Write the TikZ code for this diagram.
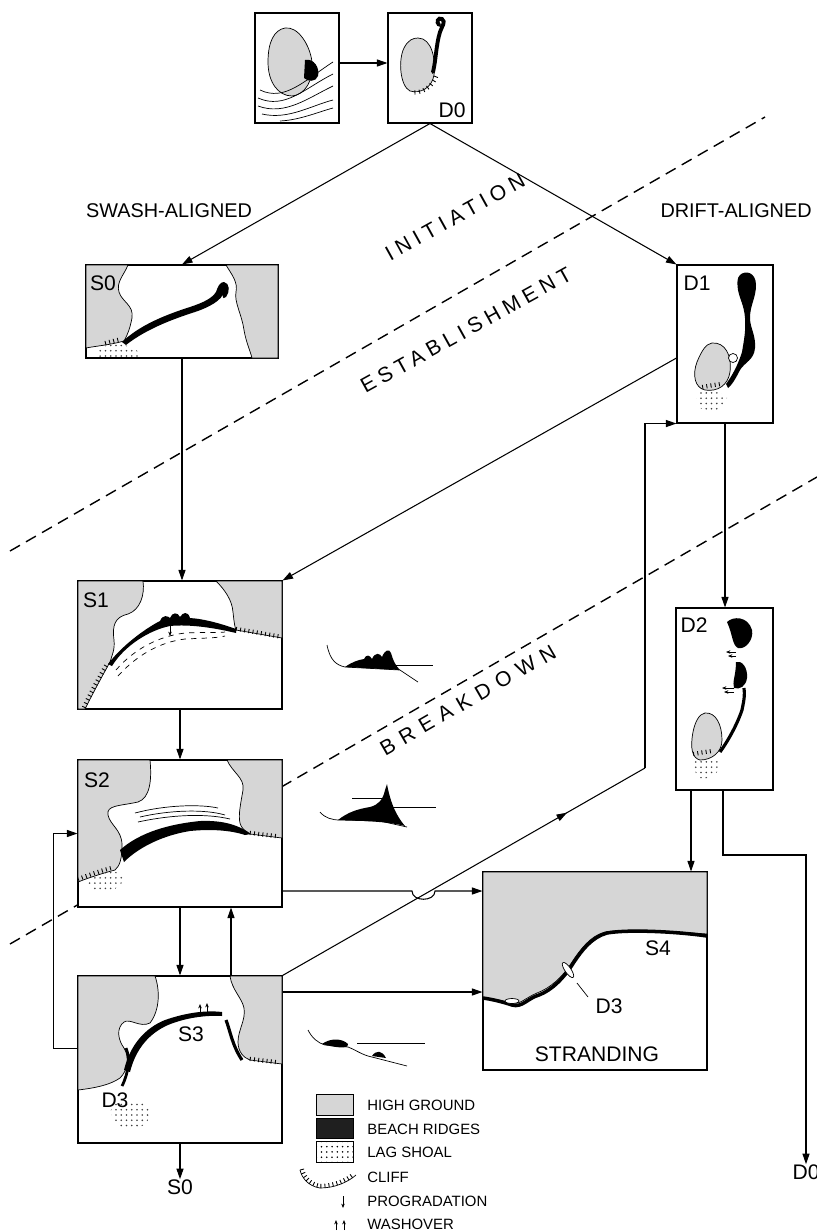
\documentclass[tikz,border=0pt]{standalone}
\usepackage{fontspec}
\setmainfont{Liberation Sans}
\usetikzlibrary{arrows.meta,calc,fit,patterns,decorations.pathreplacing,decorations.markings}
\begin{document}
\begin{tikzpicture}[x=0.02cm,y=-0.02cm]
\tikzset{
 panel/.style={draw, line width=0.6pt, fill=white, inner sep=0pt},
 conn/.style={line width=0.6pt},
 arr/.style={conn, -{Triangle[length=6pt,width=4pt]}},
 midarrow/.style={postaction={decorate, decoration={markings, mark=at position 0.785 with {\arrow{Triangle[length=6pt,width=4pt]}}}}},
 phaseline/.style={dash pattern=on 6.5pt off 4pt, line width=0.8pt},
 hg/.style={fill=black!16, draw=black, line width=0.4pt},
 ridge/.style={fill=black},
 shoal/.style={pattern=dots, pattern color=black!75},
 cliffticks/.style={decorate, decoration={border, segment length=2.4pt, amplitude=2.4pt, angle=90}, line width=0.5pt},
 lbl/.style={font=\fontsize{12}{14}\selectfont, inner sep=0pt},
 hdr/.style={font=\fontsize{11.3}{13}\selectfont, inner sep=0pt},
 leg/.style={font=\fontsize{8.5}{10}\selectfont, inner sep=0pt, anchor=west},
 phasetxt/.style={font=\fontsize{12}{14}\selectfont\addfontfeatures{LetterSpace=25}, rotate=29, inner sep=0pt},
 thin/.style={line width=0.4pt},
}
\useasboundingbox (0,0) rectangle (817,1231);

% phase boundaries
\draw[phaseline] (10,551) -- (765,117);
\draw[phaseline] (10,944) -- (817,477);

% panels
\node[panel, fit={(255,13)(339,123)}] (T1) {};
\node[panel, fit={(388,13)(472,123)}] (D0) {};
\node[panel, fit={(86,265)(278,358)}] (S0) {};
\node[panel, fit={(677,265)(773,423)}] (D1) {};
\node[panel, fit={(78,581)(282,709)}] (S1) {};
\node[panel, fit={(676,608)(773,790)}] (D2) {};
\node[panel, fit={(78,760)(282,907)}] (S2) {};
\node[panel, fit={(78,976)(282,1143)}] (S3) {};
\node[panel, fit={(483,872)(707,1070)}] (ST) {};

% ---------- sketches ----------
% T1
\draw[hg] (285,28) .. controls (298,26) and (310,45) .. (312,62) .. controls (314,80) and (305,95) .. (292,96) .. controls (278,96) and (268,82) .. (268,62) .. controls (268,42) and (274,30) .. (285,28) -- cycle;
\fill (305,60) .. controls (314,58) and (320,68) .. (318,76) .. controls (316,82) and (308,82) .. (304,78) -- cycle;
\draw[thin] (260,90) .. controls (285,102) and (305,80) .. (333,62);
\draw[thin] (258,98) .. controls (285,110) and (305,88) .. (333,74);
\draw[thin] (258,106) .. controls (285,116) and (308,98) .. (333,86);
\draw[thin] (262,114) .. controls (288,120) and (310,106) .. (333,100);
\draw[thin] (280,121) .. controls (300,120) and (318,112) .. (333,108);

% D0 panel
\draw[hg] (418,38) .. controls (432,38) and (436,60) .. (434,75) .. controls (432,88) and (420,94) .. (410,91) .. controls (400,86) and (398,60) .. (404,48) .. controls (408,40) and (413,38) .. (418,38) -- cycle;
\draw[cliffticks] (434,76) .. controls (430,86) and (420,92) .. (410,90);
\draw[line width=2.2pt, line cap=round] (433,72) .. controls (436,60) and (436,45) .. (440,32) .. controls (442,26) and (446,22) .. (442,19) .. controls (438,17) and (436,22) .. (439,25);
\node[lbl] (D0l) at (452,110) {D0};

% S0 panel
\draw[hg] (86,265) -- (128,265) .. controls (124,275) and (116,282) .. (119,292) .. controls (122,302) and (134,305) .. (132,318) .. controls (130,328) and (128,334) .. (124,341) .. controls (110,345) and (96,346) .. (86,348) -- cycle;
\draw[hg] (226,265) .. controls (232,275) and (238,282) .. (236,292) .. controls (234,302) and (242,315) .. (244,330) .. controls (246,342) and (250,350) .. (252,358) -- (278,358) -- (278,265) -- cycle;
\fill[shoal] (100,347) .. controls (115,342) and (135,345) .. (138,352) -- (138,358) -- (98,358) -- cycle;
\draw[cliffticks] (106,345) -- (126,340);
\fill[ridge] (122,342) .. controls (140,325) and (165,315) .. (190,307) .. controls (205,302) and (212,298) .. (216,292) .. controls (218,286) and (220,282) .. (224,282) .. controls (230,283) and (230,292) .. (226,297) .. controls (222,300) and (222,296) .. (224,292) .. controls (222,300) and (210,307) .. (195,312) .. controls (170,320) and (145,330) .. (126,345) -- cycle;
\node[lbl] (S0l) at (103,283) {S0};

% D1 panel
\draw[hg] (712,343) .. controls (725,342) and (732,355) .. (730,372) .. controls (728,385) and (718,392) .. (705,390) .. controls (695,388) and (692,375) .. (697,362) .. controls (702,350) and (706,344) .. (712,343) -- cycle;
\fill[shoal] (698,392) .. controls (710,390) and (725,392) .. (727,398) .. controls (728,408) and (715,412) .. (703,410) .. controls (696,405) and (695,397) .. (698,392) -- cycle;
\draw[cliffticks] (703,389) -- (727,385);
\fill[ridge] (740,275) .. controls (745,270) and (756,272) .. (756,285) .. controls (756,298) and (750,305) .. (750,318) .. controls (750,328) and (756,335) .. (755,348) .. controls (754,360) and (745,362) .. (740,370) .. controls (736,378) and (732,385) .. (728,388) -- (726,384) .. controls (732,376) and (738,365) .. (742,352) .. controls (744,340) and (746,330) .. (745,318) .. controls (744,305) and (740,300) .. (738,290) .. controls (737,282) and (737,278) .. (740,275) -- cycle;
\draw[thin, fill=white] (733,358) circle[radius=4.5];
\node[lbl] (D1l) at (697,283) {D1};

% S1 panel
\draw[hg] (78,581) -- (143,581) .. controls (145,595) and (140,610) .. (128,614) .. controls (115,617) and (112,625) .. (114,640) .. controls (115,650) and (112,655) .. (110,662) .. controls (100,680) and (92,695) .. (85,709) -- (78,709) -- cycle;
\draw[hg] (216,581) .. controls (225,590) and (232,600) .. (233,612) .. controls (234,622) and (235,628) .. (236,630) -- (282,638) -- (282,581) -- cycle;
\draw[cliffticks] (236,631) -- (282,639);
\draw[cliffticks] (86,708) .. controls (92,695) and (100,680) .. (110,663);
\fill[ridge] (108,664) .. controls (125,642) and (150,626) .. (160,621) .. controls (163,614) and (168,616) .. (170,618) .. controls (172,612) and (178,612) .. (180,617) .. controls (183,612) and (188,611) .. (190,618) .. controls (205,619) and (222,624) .. (236,629) -- (236,633) .. controls (215,628) and (190,624) .. (170,626) .. controls (150,630) and (125,645) .. (112,666) -- cycle;
\draw[thin, dashed] (116,670) .. controls (135,648) and (160,636) .. (185,633) .. controls (205,632) and (218,633) .. (225,632);
\draw[thin, dashed] (118,676) .. controls (137,655) and (160,642) .. (185,639) .. controls (205,638) and (218,638) .. (225,636);
\draw[thin, -{Stealth[length=2.5pt,width=2pt]}] (170,626) -- (170,636);
\node[lbl] (S1l) at (96,600) {S1};

% S2 panel
\draw[hg] (78,760) -- (150,760) .. controls (152,780) and (150,798) .. (138,802) .. controls (120,806) and (106,805) .. (108,815) .. controls (110,825) and (122,830) .. (122,845) .. controls (122,858) and (120,866) .. (115,870) .. controls (100,874) and (88,878) .. (78,882) -- cycle;
\draw[hg] (227,760) .. controls (232,772) and (245,778) .. (243,790) .. controls (241,802) and (238,815) .. (240,823) .. controls (242,830) and (247,832) .. (250,834) -- (282,838) -- (282,760) -- cycle;
\fill[shoal] (88,880) .. controls (100,872) and (115,870) .. (122,874) .. controls (126,880) and (120,890) .. (105,892) .. controls (95,892) and (88,888) .. (88,880) -- cycle;
\draw[cliffticks] (79,881) .. controls (90,877) and (103,872) .. (116,869);
\draw[cliffticks] (250,835) -- (282,839);
\fill[ridge] (120,850) .. controls (140,832) and (170,824) .. (200,821) .. controls (225,820) and (240,826) .. (251,834) -- (245,835) .. controls (230,830) and (210,829) .. (190,831) .. controls (165,835) and (140,846) .. (124,862) -- cycle;
\draw[thin] (140,817) .. controls (170,810) and (205,809) .. (225,815);
\draw[thin] (138,822) .. controls (170,815) and (205,813) .. (230,819);
\draw[thin] (135,813) .. controls (165,805) and (200,804) .. (218,808);
\node[lbl] (S2l) at (97,780) {S2};

% S3 panel
\draw[hg] (78,976) -- (155,976) .. controls (160,990) and (160,1010) .. (150,1023) .. controls (140,1028) and (130,1018) .. (124,1022) .. controls (116,1028) and (118,1040) .. (124,1048) .. controls (130,1058) and (128,1070) .. (120,1078) .. controls (110,1085) and (95,1088) .. (78,1090) -- cycle;
\draw[hg] (230,976) .. controls (232,990) and (242,998) .. (244,1008) .. controls (246,1020) and (238,1030) .. (238,1042) .. controls (238,1052) and (244,1058) .. (250,1060) -- (282,1064) -- (282,976) -- cycle;
\draw[cliffticks] (250,1061) -- (282,1065);
\fill[shoal] (112,1105) .. controls (125,1098) and (145,1100) .. (150,1110) .. controls (152,1122) and (140,1130) .. (128,1130) .. controls (115,1128) and (108,1115) .. (112,1105) -- cycle;
\fill[ridge] (124,1070) .. controls (130,1045) and (145,1028) .. (165,1020) .. controls (185,1013) and (205,1010) .. (222,1012) -- (222,1016) .. controls (205,1015) and (185,1018) .. (168,1025) .. controls (150,1033) and (136,1048) .. (130,1072) -- cycle;
\draw[line width=1.6pt] (126,1048) .. controls (130,1058) and (129,1072) .. (122,1086);
\draw[line width=1.8pt] (226,1020) .. controls (230,1030) and (232,1045) .. (242,1060);
\draw[thin, -{Stealth[length=2.5pt,width=2pt]}] (200,1013) -- (200,1004);
\draw[thin, -{Stealth[length=2.5pt,width=2pt]}] (207,1012) -- (207,1003);
\node[lbl] (S3l) at (191,1034) {S3};
\node[lbl] (D3a) at (115,1100) {D3};

% D2 panel
\fill[ridge] (727,622) .. controls (733,616) and (748,616) .. (752,630) .. controls (754,640) and (745,650) .. (738,648) .. controls (732,645) and (733,635) .. (727,622) -- cycle;
\fill[ridge] (736,662) .. controls (742,660) and (748,668) .. (747,678) .. controls (746,686) and (740,690) .. (734,688) .. controls (732,682) and (736,675) .. (736,662) -- cycle;
\draw[thin, -{Stealth[length=2.5pt,width=2pt]}] (736,652) -- (726,652);
\draw[thin, -{Stealth[length=2.5pt,width=2pt]}] (736,656) -- (728,656);
\draw[thin, -{Stealth[length=2.5pt,width=2pt]}] (734,688) -- (722,688);
\draw[thin, -{Stealth[length=2.5pt,width=2pt]}] (734,692) -- (724,692);
\draw[hg] (705,713) .. controls (716,712) and (722,725) .. (722,740) .. controls (722,752) and (712,760) .. (700,760) .. controls (692,758) and (690,748) .. (693,732) .. controls (695,722) and (699,714) .. (705,713) -- cycle;
\fill[shoal] (694,760) .. controls (705,756) and (718,756) .. (720,763) .. controls (720,775) and (708,780) .. (700,778) .. controls (694,773) and (692,765) .. (694,760) -- cycle;
\draw[cliffticks] (694,756) -- (718,752);
\draw[line width=1.8pt] (720,752) .. controls (730,738) and (738,722) .. (742,710) .. controls (744,700) and (745,695) .. (744,688);
\node[lbl] (D2l) at (694,625) {D2};

% Stranding panel
\draw[hg] (483,872) -- (707,872) -- (707,934) .. controls (680,932) and (630,928) .. (605,932) .. controls (590,936) and (580,950) .. (572,962) .. controls (562,978) and (550,988) .. (537,993) .. controls (525,998) and (520,1005) .. (512,1003) .. controls (500,1000) and (490,998) .. (483,998) -- cycle;
\draw[line width=2pt] (483,998) .. controls (490,999) and (500,1001) .. (512,1005) .. controls (522,1008) and (528,998) .. (539,995) .. controls (552,990) and (564,978) .. (574,962) .. controls (582,950) and (592,937) .. (607,933) .. controls (630,929) and (680,932) .. (707,936);
\draw[thin, fill=white] (512,1001) ellipse[x radius=7, y radius=2.5];
\draw[thin, fill=white, rotate around={-55:(568,970)}] (568,970) ellipse[x radius=9, y radius=3];
\draw[thin] (577,983) -- (588,997);
\node[lbl] (S4l) at (658,948) {S4};
\node[lbl] (D3b) at (609,1006) {D3};
\node[lbl] (STl) at (597,1054) {STRANDING};

% profiles
\draw[thin] (383,665) -- (433,665);
\fill (345,667) .. controls (352,662) and (358,660) .. (364,659) .. controls (366,654) and (370,655) .. (372,659) .. controls (375,652) and (380,653) .. (382,657) .. controls (385,650) and (389,648) .. (391,653) .. controls (393,660) and (395,665) .. (400,670) -- cycle;
\draw[thin] (327,645) .. controls (330,660) and (336,665) .. (345,667) -- (400,670) -- (418,682);
\draw[thin] (352,798) -- (383,798);
\draw[thin] (388,807) -- (436,807);
\fill (338,820) .. controls (348,812) and (358,809) .. (370,807) .. controls (378,805) and (383,800) .. (385,790) -- (387,784) .. controls (389,795) and (393,812) .. (405,826) .. controls (390,822) and (370,821) .. (338,820) -- cycle;
\draw[thin] (320,812) .. controls (325,818) and (332,820) .. (340,820) -- (380,821) -- (407,827);
\draw[thin] (357,1043) -- (425,1043);
\fill (322,1044) .. controls (330,1038) and (342,1038) .. (348,1044) .. controls (350,1048) and (340,1049) .. (322,1044) -- cycle;
\fill (372,1056) .. controls (376,1050) and (382,1050) .. (386,1058) -- cycle;
\draw[thin] (308,1030) .. controls (312,1038) and (318,1043) .. (325,1045) -- (348,1047) .. controls (356,1050) and (362,1055) .. (372,1057) -- (407,1066);

% ---------- connectors ----------
\coordinate (hopA) at (412,891);
\coordinate (hopB) at (435,891);
\coordinate (bend1) at (645,768);
\coordinate (dj) at (723,855);
\node[lbl] (S0b) at (180,1187) {S0};
\node[lbl] (D0b) at (806,1172) {D0};

\draw[arr] ($(T1.east)+(0,-5)$) -- ($(D0.west)+(0,-5)$);
\draw[arr] (D0.south) -- (S0.north);
\draw[arr] (D0.south) -- (D1.north west);
\draw[arr] (S0.south) -- (S0.south |- S1.north);
\draw[arr] ($(D1.west)+(0,14)$) -- (S1.north east);
\draw[arr] (D1.south) -- (D1.south |- D2.north);
\draw[arr] (S1.south) -- (S2.north);
\draw[arr] (S2.south) -- (S3.north);
\draw[arr] ($(S3.north)+(51,0)$) -- ($(S2.south)+(51,0)$);
\draw[arr] ($(S3.west)+(0,-11)$) -- ++(-24,0) |- (S2.west);
\draw[arr] ($(S2.east)+(0,57.5)$) -- (hopA) .. controls (412,902) and (435,902) .. (hopB) -- ($(ST.west)+(0,-80)$);
\draw[arr] ($(S3.east)+(0,-67.5)$) -- ($(ST.west)+(0,21)$);
\draw[conn, midarrow] (S3.north east) -- (bend1);
\draw[arr] (bend1) |- (D1.south west);
\draw[arr] ($(D2.south)+(-33.5,0)$) -- ($(ST.north)+(96,0)$);
\draw[arr] ($(D2.south)+(-1.5,0)$) -- (dj) -| (D0b.north);
\draw[arr] (S3.south) -- (S0b.north);

% headings
\node[hdr] (sw) at (169,211) {SWASH-ALIGNED};
\node[hdr, anchor=east] (dr) at (812,211) {DRIFT-ALIGNED};
\node[phasetxt] (pi) at (455,217) {INITIATION};
\node[phasetxt] (pe) at (466,330) {ESTABLISHMENT};
\node[phasetxt, font=\fontsize{12}{14}\selectfont\addfontfeatures{LetterSpace=36}, rotate=1] (pb) at (468,700) {BREAKDOWN};

% legend
\node[draw, thin, fill=black!16, fit={(316,1094)(353,1115)}, inner sep=0pt] (k1) {};
\node[draw, thin, fill=black!88, fit={(316,1118)(353,1138)}, inner sep=0pt] (k2) {};
\node[draw, thin, pattern=dots, fit={(316,1141)(353,1162)}, inner sep=0pt] (k3) {};
\draw[thin] (300,1170) .. controls (302,1178) and (308,1186) .. (320,1188) .. controls (335,1188) and (348,1182) .. (356,1175);
\draw[cliffticks] (300,1170) .. controls (302,1178) and (308,1186) .. (320,1188) .. controls (335,1188) and (348,1182) .. (356,1175);
\draw[thin, -{Stealth[length=2.5pt,width=2pt]}] (343,1196) -- (343,1208);
\draw[thin, -{Stealth[length=2.5pt,width=2pt]}] (336,1230) -- (336,1220);
\draw[thin, -{Stealth[length=2.5pt,width=2pt]}] (344,1230) -- (344,1220);
\node[leg] (t1) at (367,1105) {HIGH GROUND};
\node[leg] (t2) at (367,1129) {BEACH RIDGES};
\node[leg] (t3) at (367,1152) {LAG SHOAL};
\node[leg] (t4) at (367,1177) {CLIFF};
\node[leg] (t5) at (367,1201) {PROGRADATION};
\node[leg] (t6) at (367,1224) {WASHOVER};
\end{tikzpicture}
\end{document}
